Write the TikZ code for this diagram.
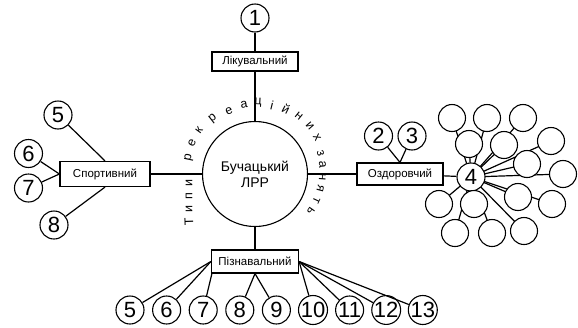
\documentclass[tikz,border=0pt]{standalone}
\usepackage{fontspec}
\setmainfont{Liberation Sans}
\usetikzlibrary{backgrounds}
\begin{document}
\begin{tikzpicture}[x=1pt,y=-1pt,
  num/.style={circle,draw,line width=1.1pt,fill=white,minimum size=28pt,inner sep=0pt,font=\fontsize{22}{22}\selectfont},
  emp/.style={circle,draw,line width=1.1pt,fill=white,minimum size=27pt,inner sep=0pt},
  box/.style={draw,line width=1.2pt,fill=white,inner sep=0pt,font=\fontsize{11.5}{12}\selectfont},
  ctr/.style={circle,draw,line width=1.1pt,fill=white,minimum size=105pt,inner sep=0pt,align=center,font=\fontsize{14}{16}\selectfont},
  ln/.style={line width=1.2pt},
  arcl/.style={font=\fontsize{12.5}{12.5}\selectfont,inner sep=0pt}]
\useasboundingbox (0,0) rectangle (578,327);
% centre and boxes
\node[ctr] (C) at (255,174) {Бучацький\\ЛРР};
\node[box,minimum width=86pt,minimum height=19pt] (L) at (255,61.5) {Лікувальний};
\node[box,minimum width=90pt,minimum height=25pt] (S) at (105,174) {Спортивний};
\node[box,minimum width=86pt,minimum height=22pt] (O) at (400,174) {Оздоровчий};
\node[box,minimum width=87pt,minimum height=23pt] (P) at (255,261.5) {Пізнавальний};
% numbered circles
\node[num] (n1) at (255,18) {1};
\node[num] (s5) at (58,115) {5};
\node[num] (s6) at (28.5,153.5) {6};
\node[num] (s7) at (28.5,188) {7};
\node[num] (s8) at (54,225) {8};
\node[num] (o2) at (378.5,136) {2};
\node[num] (o3) at (412,136) {3};
\node[num] (o4) at (471,177) {4};
\foreach \k [count=\j from 0] in {5,...,13}
  \node[num] (b\k) at ({130+36.6*\j},310) {\k};
% empty circles
\foreach \x/\y [count=\k] in {452/118,487/118,523/118,469/144,504/145,551/141,527/164,563/174,
  439/204,474/204,518/197,552/204,455/233,492/233,524/231}
  \node[emp] (e\k) at (\x,\y) {};
% connectors
\draw[ln] (n1) -- (L);
\draw[ln] (L) -- (C);
\draw[ln] (C) -- (S);
\draw[ln] (C) -- (O);
\draw[ln] (C) -- (P);
\draw[ln] (s5) -- (S.north);
\draw[ln] (s8) -- (S.south);
\draw[ln] (s6) -- (S.west);
\draw[ln] (s7) -- (S.west);
\draw[ln] (o2) -- (O.north);
\draw[ln] (o3) -- (O.north);
\draw[ln] (O) -- (o4);
\begin{pgfonlayer}{background}
\foreach \k in {1,...,15} \draw[ln] (o4.center) -- (e\k.center);
\end{pgfonlayer}
\draw[ln] (b5) -- (P.west);
\draw[ln] (b6) -- (P.west);
\draw[ln] (b7) -- ([xshift=1pt]P.south west);
\draw[ln] (b8) -- (P.south);
\draw[ln] (b9) -- (P.south);
\foreach \k in {10,...,13} \draw[ln] (b\k) -- (P.east);
% arc text
\foreach \x/\y/\r/\c [count=\i] in {189/222/92/Т,189/209/90/и,189/196/90/п,189/183/90/и,
  189/158/78/р,192/143/66/е,199/130/54/к,213/119/38/р,229/111/23/е,244/105/9/а,258/103/-3/ц,
  272/105/-14/і,286/109/-27/й,299/116/-39/н,310/126/-49/и,317/138/-60/х,
  320.5/153/-74/з,322.5/165/-84/а,322.5/177/-94/н,320.5/189/-105/я,316.5/200/-115/т,311/211/-125/ь}
  \node[arcl,rotate=\r] (t\i) at (\x,\y) {\c};
\end{tikzpicture}
\end{document}
